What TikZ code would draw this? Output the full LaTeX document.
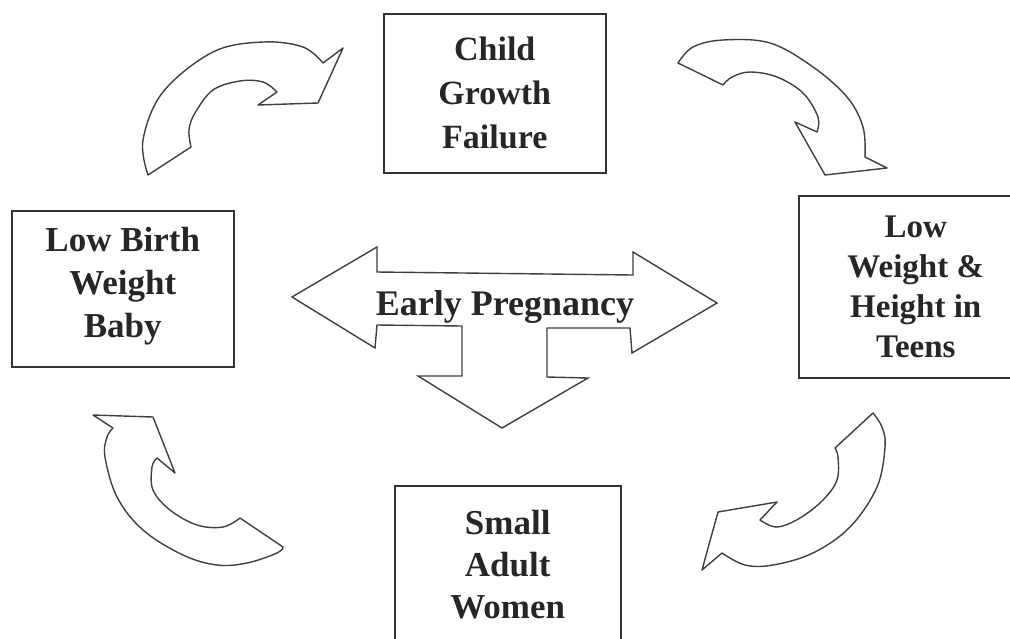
\documentclass[tikz,border=0pt]{standalone}
\usepackage{fontspec}
\setmainfont{Liberation Serif}
\begin{document}
\begin{tikzpicture}[x=1pt,y=-1pt,
  box/.style={draw=black!80, line width=1.5pt, anchor=north west, inner sep=0pt},
  lbl/.style={text=black!85, font=\bfseries, align=center, inner sep=0pt},
  blockarrow/.style={draw=black!75, line width=1.4pt, fill=white, line join=round},
  sm/.style={smooth, tension=0.6}]
\useasboundingbox (0,0) rectangle (1010,638);

% boxes
\node[box, minimum width=222pt, minimum height=159pt] (child) at (383,13) {};
\node[box, minimum width=222pt, minimum height=156pt] (lbw) at (11,210) {};
\node[box, minimum width=234pt, minimum height=182pt] (teens) at (798,195) {};
\node[box, minimum width=226pt, minimum height=156pt] (small) at (394,485) {};

% labels
\node[lbl, font=\bfseries\fontsize{34}{44}\selectfont] (childtxt) at (child.center) {Child\\Growth\\Failure};
\node[lbl, font=\bfseries\fontsize{35}{43}\selectfont] (lbwtxt) at ([yshift=3pt]lbw.center) {Low Birth\\Weight\\Baby};
\node[lbl, font=\bfseries\fontsize{33}{40}\selectfont] (teenstxt) at (teens.center) {Low\\Weight \&\\Height in\\Teens};
\node[lbl, font=\bfseries\fontsize{35}{42}\selectfont] (smalltxt) at ([yshift=-1pt]small.center) {Small\\Adult\\Women};

% top-left curved arrow
\draw[blockarrow] (191,147) -- (148,175)
  -- plot[sm] coordinates {(148,175) (143,140) (163,92) (213,52) (263,42) (303,47) (323,63)}
  -- (343,48) -- (318,103) -- (258,105) -- (277,92)
  -- plot[sm] coordinates {(277,92) (263,82) (240,81) (213,90) (195,113) (189,130) (191,147)}
  -- cycle;

% top-right curved arrow
\draw[blockarrow] (723,85) -- (678,63)
  -- plot[sm] coordinates {(678,63) (693,47) (723,40) (770,43) (813,67) (847,97) (863,127) (865,157)}
  -- (887,168) -- (825,175) -- (795,122) -- (817,132)
  -- plot[sm] coordinates {(817,132) (818,117) (803,93) (777,77) (750,72) (732,77) (723,85)}
  -- cycle;

% bottom-left curved arrow
\draw[blockarrow] (93,415) -- (153,417) -- (175,473) -- (157,458)
  -- plot[sm] coordinates {(157,458) (152,467) (153,490) (170,510) (197,525) (223,527) (240,518)}
  -- (283,547)
  -- plot[sm] coordinates {(283,547) (277,553) (247,563) (217,565) (183,555) (143,530) (117,497) (105,457) (107,437) (113,428)}
  -- cycle;

% bottom-right curved arrow
\draw[blockarrow] (873,413) -- (835,448)
  -- plot[sm] coordinates {(835,448) (838,457) (837,480) (823,500) (800,518) (777,527) (760,520)}
  -- (777,502) -- (718,512) -- (702,570) -- (722,553)
  -- plot[sm] coordinates {(722,553) (745,565) (773,565) (813,553) (850,527) (877,487) (885,447) (882,427) (873,413)}
  -- cycle;

% central three-way arrow
\draw[blockarrow, line join=miter] (292,297) -- (377,247) -- (377,272) -- (633,275) -- (633,252)
  -- (717,303) -- (632,353) -- (630,328) -- (547,328) -- (547,377) -- (588,378)
  -- (502,428) -- (418,376) -- (462,376) -- (462,326) -- (377,325) -- (375,348) -- cycle;
\node[lbl, font=\bfseries\fontsize{36}{40}\selectfont, anchor=base] (ep) at (505,315) {Early Pregnancy};
\end{tikzpicture}
\end{document}
